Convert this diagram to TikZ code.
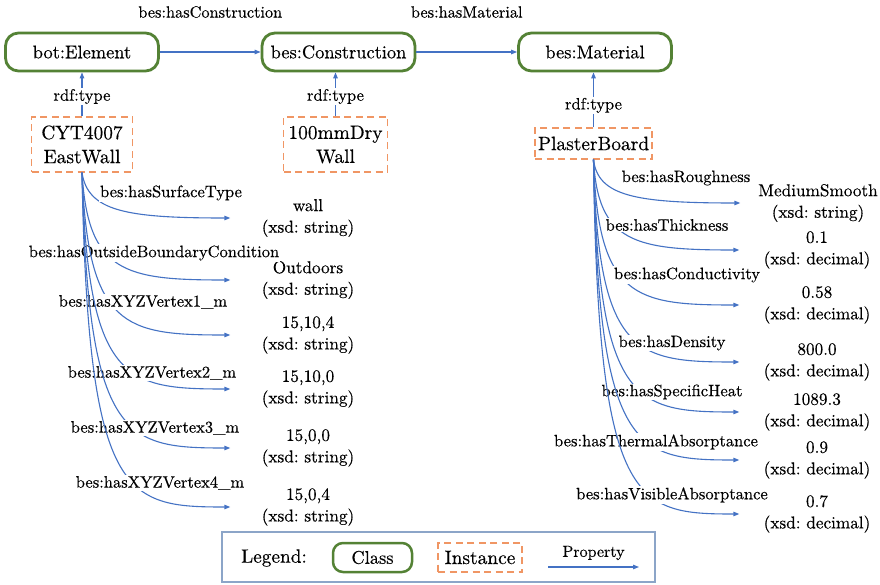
\documentclass[tikz,border=0pt]{standalone}
\usepackage{fontspec}
\setmainfont{lmroman10-regular.otf}[FakeBold=0.35]
\frenchspacing
\usetikzlibrary{arrows.meta}
\definecolor{classgreen}{RGB}{84,130,53}
\definecolor{instorange}{RGB}{240,150,100}
\definecolor{propblue}{RGB}{68,114,196}
\definecolor{legendblue}{RGB}{140,165,200}
\begin{document}
\begin{tikzpicture}[x=1pt,y=-1pt,
  classbox/.style={draw=classgreen, line width=2.8pt, rounded corners=13pt,
    minimum width=153pt, minimum height=38pt, inner sep=0pt,
    font=\fontsize{18.4}{22}\selectfont},
  instbox/.style={draw=instorange, line width=1.4pt, dash pattern=on 7pt off 4.5pt,
    inner sep=0pt, align=center, font=\fontsize{19.4}{24}\selectfont},
  prop/.style={draw=propblue, line width=1.1pt, -{Triangle[length=6pt,width=4.5pt]}},
  toval/.style={prop, shorten >=17.5pt},
  plabel/.style={fill=white, inner sep=1pt, font=\fontsize{16.5}{20}\selectfont},
  elabel/.style={font=\fontsize{16.3}{20}\selectfont},
  valnode/.style={text width=120pt, inner xsep=0pt, align=center,
    font=\fontsize{17.2}{21.5}\selectfont},
]
\fill[white] (0,0) rectangle (880,585);
\useasboundingbox (0,0) rectangle (880,585);

% classes
\node[classbox] (elem) at (82,52) {bot:Element};
\node[classbox] (cons) at (338.5,52) {bes:Construction};
\node[classbox] (mat)  at (595,52) {bes:Material};

% instances
\node[instbox, minimum width=101pt, minimum height=55pt] (ewall) at (82,144.5) {CYT4007\\EastWall};
\node[instbox, minimum width=104pt, minimum height=55pt] (dry) at (335.5,144.5) {100mmDry\\Wall};
\node[instbox, minimum width=117pt, minimum height=31pt] (pb) at (593.5,143.5) {PlasterBoard};

% class-level properties
\draw[prop] (elem) -- (cons) node[midway, yshift=40pt, elabel] {bes:hasConstruction};
\draw[prop] (cons) -- (mat) node[midway, yshift=40pt, elabel] {bes:hasMaterial};

% rdf:type links
\draw[prop] (ewall.north) -- (ewall.north |- elem.south) node[pos=0.45, plabel] {rdf:type};
\draw[prop] (dry.north) -- (dry.north |- cons.south) node[pos=0.45, plabel] {rdf:type};
\draw[prop] (pb.north) -- (pb.north |- mat.south) node[pos=0.4, plabel] {rdf:type};

% literal values of the wall
\node[valnode] (w1) at (308,218) {wall\\(xsd: string)};
\node[valnode] (w2) at (308,280) {Outdoors\\(xsd: string)};
\node[valnode] (w3) at (308,335) {15,10,4\\(xsd: string)};
\node[valnode] (w4) at (308,389) {15,10,0\\(xsd: string)};
\node[valnode] (w5) at (308,448) {15,0,0\\(xsd: string)};
\node[valnode] (w6) at (308,507) {15,0,4\\(xsd: string)};

% wall data properties (drawn in order so later curves pass over earlier labels)
\draw[toval] (ewall.south) .. controls (88,211) and (125,218) .. (w1);
\node[plabel] (lw1) at (171,193) {bes:hasSurfaceType};
\draw[toval] (ewall.south) .. controls (88,273) and (125,280) .. (w2);
\node[plabel] (lw2) at (154,253) {bes:hasOutsideBoundaryCondition};
\draw[toval] (ewall.south) .. controls (88,328) and (125,335) .. (w3);
\node[plabel] (lw3) at (143,302) {bes:hasXYZVertex1\_m};
\draw[toval] (ewall.south) .. controls (88,382) and (125,389) .. (w4);
\node[plabel] (lw4) at (152,373) {bes:hasXYZVertex2\_m};
\draw[toval] (ewall.south) .. controls (88,441) and (125,448) .. (w5);
\node[plabel] (lw5) at (155,428) {bes:hasXYZVertex3\_m};
\draw[toval] (ewall.south) .. controls (88,500) and (125,507) .. (w6);
\node[plabel] (lw6) at (160,483) {bes:hasXYZVertex4\_m};

% literal values of the material
\node[valnode] (m1) at (818,203) {MediumSmooth\\(xsd: string)};
\node[valnode] (m2) at (817,250) {0.1\\(xsd: decimal)};
\node[valnode] (m3) at (817,305) {0.58\\(xsd: decimal)};
\node[valnode] (m4) at (817,362) {800.0\\(xsd: decimal)};
\node[valnode] (m5) at (817,412) {1089.3\\(xsd: decimal)};
\node[valnode] (m6) at (817,460) {0.9\\(xsd: decimal)};
\node[valnode] (m7) at (817,514) {0.7\\(xsd: decimal)};

% material data properties
\draw[toval] (pb.south) .. controls (598,196) and (635,203) .. (m1);
\node[plabel] (lm1) at (686,178) {bes:hasRoughness};
\draw[toval] (pb.south) .. controls (598,243) and (635,250) .. (m2);
\node[plabel] (lm2) at (667,225) {bes:hasThickness};
\draw[toval] (pb.south) .. controls (598,298) and (635,305) .. (m3);
\node[plabel] (lm3) at (687,275) {bes:hasConductivity};
\draw[toval] (pb.south) .. controls (598,355) and (635,362) .. (m4);
\node[plabel] (lm4) at (672,343) {bes:hasDensity};
\draw[toval] (pb.south) .. controls (598,405) and (635,412) .. (m5);
\node[plabel] (lm5) at (672,392) {bes:hasSpecificHeat};
\draw[toval] (pb.south) .. controls (598,453) and (635,460) .. (m6);
\node[plabel] (lm6) at (656,442) {bes:hasThermalAbsorptance};
\draw[toval] (pb.south) .. controls (598,507) and (635,514) .. (m7);
\node[plabel] (lm7) at (672,495) {bes:hasVisibleAbsorptance};

% legend
\node[draw=legendblue, line width=1.3pt, minimum width=433pt, minimum height=50pt] (legend) at (438.5,557) {};
\node[font=\fontsize{19.3}{23}\selectfont] (legtxt) at (274,558) {Legend:};
\node[classbox, minimum width=79pt, minimum height=29pt, rounded corners=10pt, line width=2.5pt] (legc) at (372.5,557.5) {Class};
\node[instbox, minimum width=84pt, minimum height=29pt] (legi) at (480,557.5) {Instance};
\coordinate (lpa) at (548,567);
\coordinate (lpb) at (639,567);
\draw[prop] (lpa) -- (lpb) node[midway, yshift=14pt, font=\fontsize{16}{20}\selectfont] {Property};
\end{tikzpicture}
\end{document}
